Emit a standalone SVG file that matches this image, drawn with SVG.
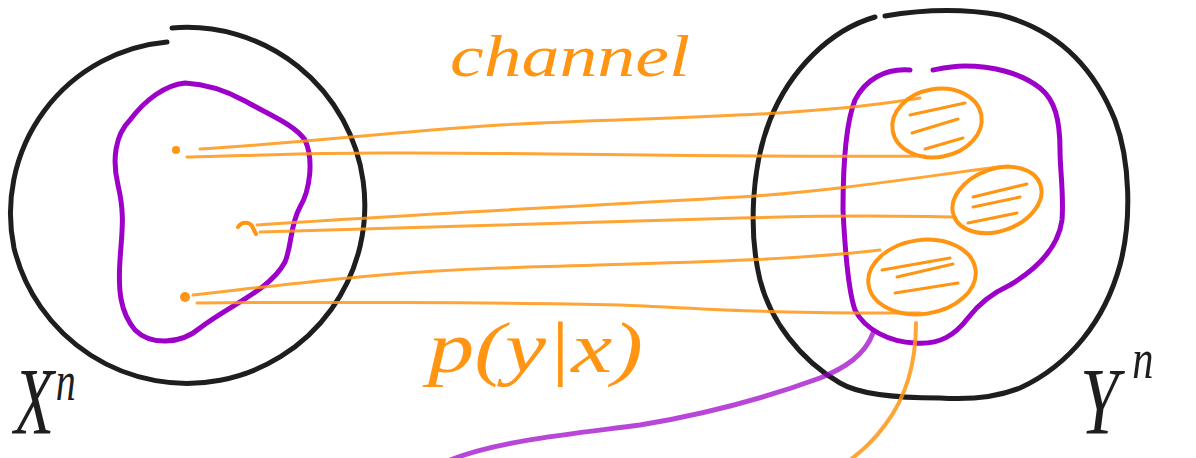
<svg xmlns="http://www.w3.org/2000/svg" width="1196" height="458" viewBox="0 0 1196 458">
<style>
.blk{fill:none;stroke:#1e1e1e;stroke-width:5;stroke-linecap:round;stroke-linejoin:round}
.pur{fill:none;stroke:#9d00c9;stroke-width:5;stroke-linecap:round;stroke-linejoin:round}
.org{fill:none;stroke:#ff9512;stroke-width:4;stroke-linecap:round;stroke-linejoin:round}
.ln{fill:none;stroke:#ff9512;stroke-opacity:0.85;stroke-width:3;stroke-linecap:round}
.hatch{fill:none;stroke:#ff9512;stroke-width:3;stroke-linecap:round}
.dot{fill:#ff9512}
.hand{font-family:"Liberation Serif","DejaVu Serif",serif;font-style:italic}
</style>
<rect width="1196" height="458" fill="#ffffff"/>

<g id="input-set">
  <path class="blk" d="M172,28 A178,178 0 1 1 14,248 A172,172 0 0 1 167,42"/>
  <path class="pur" d="M185,83 C205,84 225,90 245,101 C270,115 295,125 305,140 C314,160 310,190 300,207 C290,225 292,245 285,262 C270,290 230,305 200,328 C180,345 150,345 135,330 C120,312 118,290 120,260 C122,230 125,215 118,185 C112,160 115,135 130,120 C145,100 165,85 185,83 Z"/>
  <circle class="dot" cx="176" cy="150" r="4"/>
  <path class="org" d="M238,227 C242,221 249,222 252,226 L256,234" stroke-width="5"/>
  <circle class="dot" cx="185" cy="297" r="5"/>
  <text class="hand" transform="translate(14,434) scale(0.8,1.15)" font-size="82" fill="#1e1e1e">X<tspan font-size="50" dx="2" dy="-30">n</tspan></text>
</g>

<g id="output-set">
  <path class="blk" d="M875,17 C830,30 790,70 770,120 C752,165 748,230 760,280 C770,320 800,360 840,383 C860,395 900,398 940,398 C970,400 995,398 1020,388 C1070,365 1105,320 1120,265 C1132,220 1130,160 1115,120 C1095,70 1060,30 1000,15 C960,8 920,10 885,16"/>
  <path class="pur" d="M910,70 C885,68 865,80 855,100 C845,125 843,170 843,210 C845,250 848,290 855,310 C865,330 890,342 915,343 C940,345 955,335 968,318 C980,302 995,292 1010,285 C1035,270 1058,250 1062,220 C1064,195 1060,170 1060,150 C1060,120 1055,100 1040,88 C1020,72 990,66 965,66 C952,66 943,68 933,70"/>
  <path class="pur" stroke-opacity="0.72" d="M873,333 C865,355 845,368 820,378 C760,400 700,415 640,425 C580,433 500,440 450,460"/>
  <path class="org" stroke-width="3.5" stroke-opacity="0.85" d="M916,323 C916,360 908,395 885,425 C872,443 860,452 850,460"/>
  <text class="hand" transform="translate(1080,434) scale(0.85,1.15)" font-size="82" fill="#1e1e1e">Y<tspan font-size="50" dx="16" dy="-49">n</tspan></text>
</g>

<g id="cluster-1">
  <ellipse class="org" cx="937" cy="123" rx="45" ry="34" transform="rotate(-10 937 123)"/>
  <path class="hatch" d="M910,115 L965,103 M912,133 L958,119 M925,149 L963,138"/>
</g>
<g id="cluster-2">
  <ellipse class="org" cx="997" cy="200" rx="46" ry="31" transform="rotate(-20 997 200)"/>
  <path class="hatch" d="M973,197 L1027,184 M973,207 L1020,197 M968,223 L1017,213"/>
</g>
<g id="cluster-3">
  <ellipse class="org" cx="922" cy="277" rx="54" ry="37" transform="rotate(-8 922 277)"/>
  <path class="hatch" d="M882,270 L950,258 M897,277 L953,264 M895,293 L958,283"/>
</g>

<g id="connectors">
  <path class="ln" d="M200,149 C300,143 380,133 500,125 C650,117 800,118 920,98"/>
  <path class="ln" d="M187,157 C240,156 300,153 380,153 C550,152 700,158 925,156"/>
  <path class="ln" d="M257,225 C400,215 600,205 740,197 C850,190 950,172 1008,166"/>
  <path class="ln" d="M260,232 C400,228 600,222 740,218 C850,215 900,216 955,217"/>
  <path class="ln" d="M193,295 C300,283 380,272 500,268 C650,263 780,262 880,250"/>
  <path class="ln" d="M197,303 C300,302 500,302 620,305 C700,308 760,314 920,313"/>
</g>

<g id="label-channel">
  <text class="hand" x="450" y="76" font-size="60" fill="#ff9512" textLength="240" lengthAdjust="spacingAndGlyphs">channel</text>
</g>
<g id="label-pyx">
  <text class="hand" x="428" y="372" font-size="72" fill="#ff9512" textLength="215" lengthAdjust="spacingAndGlyphs">p(y|x)</text>
</g>
</svg>
